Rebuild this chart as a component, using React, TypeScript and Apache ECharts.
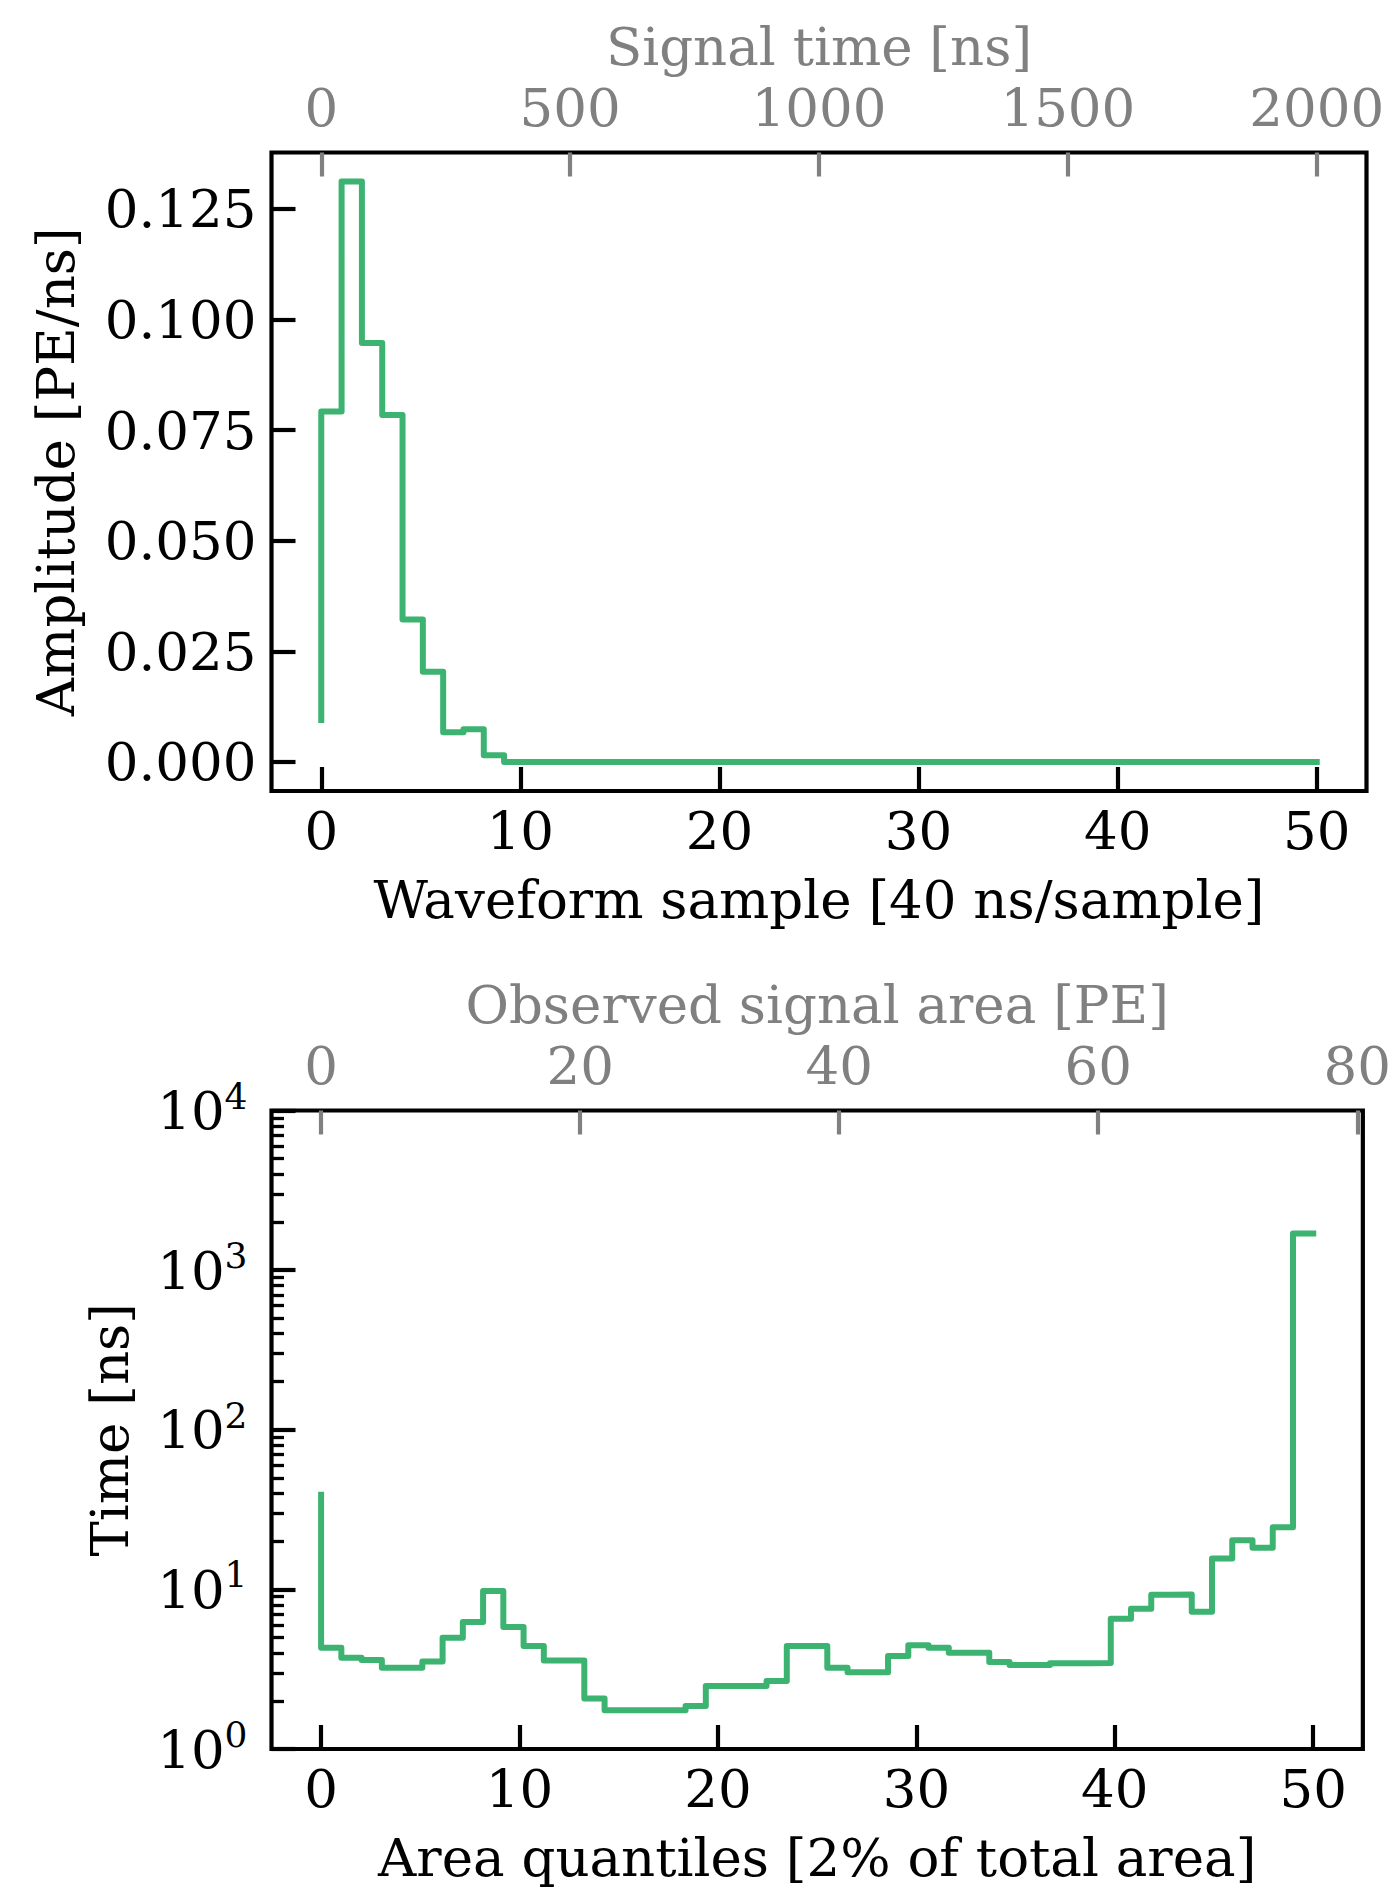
import React, { useEffect, useRef } from "react";
import * as echarts from "echarts";

// ---------- data ----------
// 50 samples spread evenly over 0..50 (matplotlib step, where="pre")
const samplePositions: number[] = Array.from({ length: 50 }, (_, i) => (i * 50) / 49);

// Top panel: waveform amplitude [PE/ns]
const waveformAmplitude: number[] = [
  0.0095, 0.0792, 0.1312, 0.0947, 0.0784, 0.0322, 0.0204, 0.0067, 0.0074, 0.0015,
  0, 0, 0, 0, 0, 0, 0, 0, 0, 0,
  0, 0, 0, 0, 0, 0, 0, 0, 0, 0,
  0, 0, 0, 0, 0, 0, 0, 0, 0, 0,
  0, 0, 0, 0, 0, 0, 0, 0, 0, 0,
];

// Bottom panel: time per area quantile [ns]
const quantileTimes: number[] = [
  39.2, 4.31, 3.73, 3.61, 3.23, 3.23, 3.53, 4.98, 6.24, 9.76,
  5.81, 4.42, 3.59, 3.59, 2.07, 1.75, 1.75, 1.75, 1.75, 1.86,
  2.48, 2.48, 2.48, 2.67, 4.42, 4.42, 3.23, 3.03, 3.03, 3.82,
  4.46, 4.31, 4.01, 4.01, 3.51, 3.36, 3.36, 3.44, 3.45, 3.46,
  6.55, 7.57, 9.26, 9.3, 7.25, 15.6, 20.3, 18.2, 24.5, 1695,
];

// tick labels
const sampleTicks = [0, 10, 20, 30, 40, 50];
const signalTimeTicks = [0, 500, 1000, 1500, 2000];
const amplitudeTicks = [0, 0.025, 0.05, 0.075, 0.1, 0.125];
const areaTicks = [0, 20, 40, 60, 80];
const timeMajorTicks = [1, 10, 100, 1000, 10000];
const timeMinorTicks = [
  2, 3, 4, 5, 6, 7, 8, 9,
  20, 30, 40, 50, 60, 70, 80, 90,
  200, 300, 400, 500, 600, 700, 800, 900,
  2000, 3000, 4000, 5000, 6000, 7000, 8000, 9000,
];

// axis extents (matplotlib 5% margins)
const sampleExtent = [-2.5, 52.5];
const signalTimeExtent = [-100, 2100]; // 40 ns per sample
const areaExtent = [-3.83, 80.43]; // observed area [PE]
const amplitudeExtent = [-0.00656, 0.13776];
const timeExtent = [1, 10000];

// ---------- styles ----------
const FONT = "DejaVu Serif";
const FS = 53;
const GREY = "#808080";
const GREEN = "#3CB371";
const LEFT = 271.5;
const GW = 1095;
const GH = 638.5;
const TOP1 = 152.5;
const TOP2 = 1110.5;
const LW = 6;

const txt = (color: string) => ({ fontFamily: FONT, fontSize: FS, color });
const plain = (v: number) => String(v);

function bottomXAxis(gridIndex: number, name: string) {
  return {
    gridIndex,
    type: "value",
    position: "bottom",
    min: sampleExtent[0],
    max: sampleExtent[1],
    axisLine: { show: false, onZero: false },
    splitLine: { show: false },
    axisTick: {
      show: true,
      inside: true,
      length: 24,
      customValues: sampleTicks,
      lineStyle: { color: "#000", width: 4.2 },
    },
    axisLabel: { customValues: sampleTicks, margin: 13, formatter: plain, ...txt("#000") },
    name,
    nameLocation: "middle",
    nameGap: 82,
    nameTextStyle: txt("#000"),
  };
}

function topXAxis(gridIndex: number, ext: number[], ticks: number[], name: string) {
  return {
    gridIndex,
    type: "value",
    position: "top",
    min: ext[0],
    max: ext[1],
    axisLine: { show: false, onZero: false },
    splitLine: { show: false },
    axisTick: {
      show: true,
      inside: true,
      length: 24,
      customValues: ticks,
      lineStyle: { color: GREY, width: 4.2 },
    },
    axisLabel: { customValues: ticks, margin: 19, formatter: plain, ...txt(GREY) },
    name,
    nameLocation: "middle",
    nameGap: 80,
    nameTextStyle: txt(GREY),
  };
}

export default function App() {
  const ref = useRef<HTMLDivElement>(null);

  useEffect(() => {
    if (!ref.current) return;
    const chart = echarts.init(ref.current, undefined, { renderer: "svg" });

    const option: any = {
      animation: false,
      backgroundColor: "#fff",
      grid: [
        { left: LEFT, top: TOP1, width: GW, height: GH, show: true, borderColor: "#000", borderWidth: 4.2, backgroundColor: "transparent" },
        { left: LEFT, top: TOP2, width: GW, height: GH, show: true, borderColor: "#000", borderWidth: 4.2, backgroundColor: "transparent" },
      ],
      xAxis: [
        bottomXAxis(0, "Waveform sample [40 ns/sample]"),
        topXAxis(0, signalTimeExtent, signalTimeTicks, "Signal time [ns]"),
        bottomXAxis(1, "Area quantiles [2% of total area]"),
        topXAxis(1, areaExtent, areaTicks, "Observed signal area [PE]"),
      ],
      yAxis: [
        {
          gridIndex: 0,
          type: "value",
          position: "left",
          min: amplitudeExtent[0],
          max: amplitudeExtent[1],
          axisLine: { show: false, onZero: false },
          splitLine: { show: false },
          axisTick: {
            show: true,
            inside: true,
            length: 24,
            customValues: amplitudeTicks,
            lineStyle: { color: "#000", width: 4.2 },
          },
          axisLabel: {
            customValues: amplitudeTicks,
            margin: 15,
            formatter: (v: number) => v.toFixed(3),
            ...txt("#000"),
          },
          name: "Amplitude [PE/ns]",
          nameLocation: "middle",
          nameGap: 190,
          nameTextStyle: txt("#000"),
        },
        {
          gridIndex: 1,
          type: "log",
          logBase: 10,
          position: "left",
          min: timeExtent[0],
          max: timeExtent[1],
          axisLine: { show: false, onZero: false },
          splitLine: { show: false },
          axisTick: {
            show: true,
            inside: true,
            length: 24,
            customValues: timeMajorTicks,
            lineStyle: { color: "#000", width: 4.2 },
          },
          axisLabel: {
            customValues: timeMajorTicks,
            margin: 24,
            formatter: (v: number) => `{b|10}{s|${Math.round(Math.log10(v))}}`,
            rich: {
              b: { fontFamily: FONT, fontSize: FS, color: "#000" },
              s: { fontFamily: FONT, fontSize: 36, color: "#000", padding: [0, 0, 29, 0] },
            },
          },
          name: "Time [ns]",
          nameLocation: "middle",
          nameGap: 136,
          nameTextStyle: txt("#000"),
        },
        {
          gridIndex: 1,
          type: "log",
          logBase: 10,
          position: "left",
          offset: 0,
          min: timeExtent[0],
          max: timeExtent[1],
          axisLine: { show: false, onZero: false },
          splitLine: { show: false },
          axisTick: {
            show: true,
            inside: true,
            length: 12.5,
            customValues: timeMinorTicks,
            lineStyle: { color: "#000", width: 3.3 },
          },
          axisLabel: { show: false },
        },
      ],
      series: [
        {
          type: "line",
          xAxisIndex: 0,
          yAxisIndex: 0,
          step: "start",
          symbol: "none",
          showSymbol: false,
          data: samplePositions.map((x, i) => [x, waveformAmplitude[i]]),
          lineStyle: { color: GREEN, width: LW, cap: "square", join: "round" },
        },
        {
          type: "line",
          xAxisIndex: 2,
          yAxisIndex: 1,
          step: "start",
          symbol: "none",
          showSymbol: false,
          data: samplePositions.map((x, i) => [x, quantileTimes[i]]),
          lineStyle: { color: GREEN, width: LW, cap: "square", join: "round" },
        },
      ],
    };

    chart.setOption(option);
    return () => chart.dispose();
  }, []);

  return (
    <div
      ref={ref}
      style={{ position: "absolute", left: 0, top: 0, width: 1394, height: 1887, background: "#fff" }}
    />
  );
}
